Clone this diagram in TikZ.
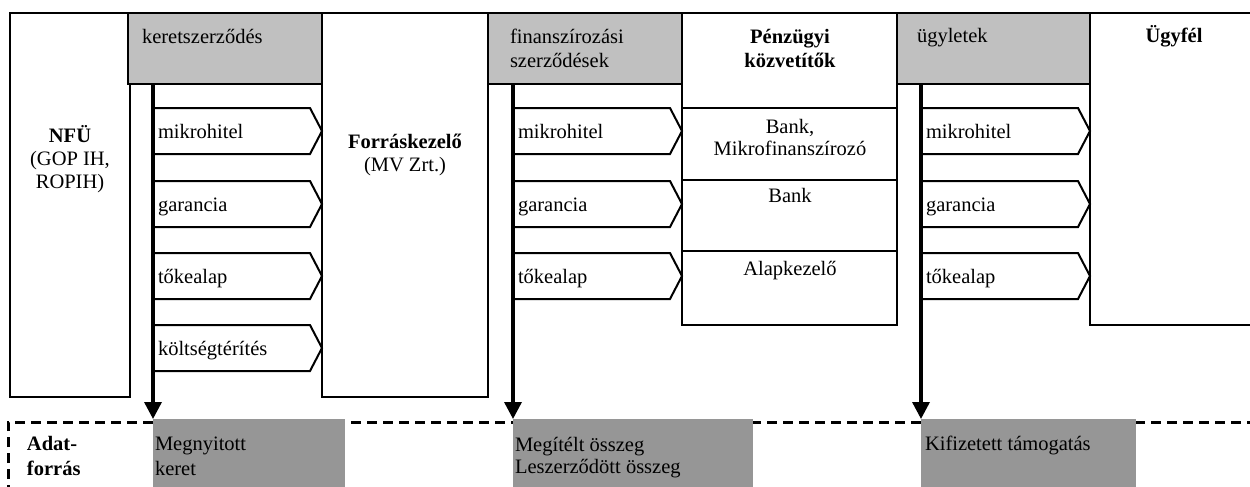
\documentclass[tikz,border=0pt]{standalone}
\usepackage{fontspec}
\setmainfont{Liberation Serif}
\usetikzlibrary{arrows.meta}
\definecolor{headgray}{RGB}{192,192,192}
\definecolor{sourcegray}{RGB}{150,150,150}
\begin{document}
\begin{tikzpicture}[x=1pt,y=-1pt,
  every node/.style={inner sep=0pt, outer sep=0pt, font=\fontsize{20.5}{23.5}\selectfont},
  frame/.style={draw=black, line width=2pt},
  colbox/.style={frame, fill=white, anchor=north west},
  headbox/.style={frame, fill=headgray, anchor=north west, minimum height=71pt},
  srcbox/.style={fill=sourcegray, anchor=north west, minimum height=72pt},
  flow/.style={line width=3.4pt, -{Triangle[width=17pt,length=17pt]}},
  sourceframe/.style={line width=3pt, dash pattern=on 10pt off 6pt},
  lbl/.style={anchor=base west},
  tab/.pic={
    \draw[frame, fill=white, line join=miter] (0,-23) -- (157,-23) -- (169,0) -- (157,23) -- (0,23);
    \node[lbl] (-label) at (5,7) {#1};
  }]
\useasboundingbox (0,0) rectangle (1250,487);

% actor columns
\node[colbox, minimum width=120pt, minimum height=384pt] (nfu) at (10,13) {};
\node[colbox, minimum width=166pt, minimum height=384pt] (fk) at (322,13) {};
\node[colbox, minimum width=215pt, minimum height=95pt] (pk) at (682,13) {};
\node[colbox, minimum width=215pt, minimum height=72pt] (pk1) at (682,108) {};
\node[colbox, minimum width=215pt, minimum height=71pt] (pk2) at (682,180) {};
\node[colbox, minimum width=215pt, minimum height=74pt] (pk3) at (682,251) {};
\node[colbox, minimum width=175pt, minimum height=312pt] (ugy) at (1090,13) {};

% contract headers
\node[headbox, minimum width=194pt] (h1) at (128,13) {};
\node[headbox, minimum width=194pt] (h2) at (488,13) {};
\node[headbox, minimum width=193pt] (h3) at (897,13) {};

% product tabs
\pic (a1) at (153,131) {tab=mikrohitel};
\pic (a2) at (153,204) {tab=garancia};
\pic (a3) at (153,276) {tab=tőkealap};
\pic (a4) at (153,348) {tab=költségtérítés};
\pic (b1) at (513,131) {tab=mikrohitel};
\pic (b2) at (513,204) {tab=garancia};
\pic (b3) at (513,276) {tab=tőkealap};
\pic (c1) at (921,131) {tab=mikrohitel};
\pic (c2) at (921,204) {tab=garancia};
\pic (c3) at (921,276) {tab=tőkealap};

% data source band
\draw[sourceframe] (8,495) -- (8,422) -- (1256,422);
\node[srcbox, minimum width=192pt] (s1) at (153,419) {};
\node[srcbox, minimum width=240pt] (s2) at (513,419) {};
\node[srcbox, minimum width=215pt] (s3) at (921,419) {};

% flows down to the data sources
\draw[flow] (h1.south west -| s1.north west) -- (s1.north west);
\draw[flow] (h2.south west -| s2.north west) -- (s2.north west);
\draw[flow] (h3.south west -| s3.north west) -- (s3.north west);

% texts (multi-line nodes sit on the baseline of their last line)
\node[lbl] (th1) at (142,44) {keretszerződés};
\node[lbl, align=left, font=\fontsize{20.5}{24}\selectfont] (th2) at (510,67) {finanszírozási\\szerződések};
\node[lbl] (th3) at (917,43) {ügyletek};
\node[anchor=base, align=center, font=\fontsize{20.5}{23}\selectfont] (tnfu) at (70,188) {{\bfseries NFÜ}\\(GOP IH,\\ROPIH)};
\node[anchor=base, align=center, font=\fontsize{20.5}{23}\selectfont] (tfk) at (405,171) {{\bfseries Forráskezelő}\\(MV Zrt.)};
\node[anchor=base, align=center, font=\fontsize{20.5}{24}\selectfont\bfseries] (tpk) at (790,67) {Pénzügyi\\közvetítők};
\node[anchor=base, align=center, font=\fontsize{20.5}{22}\selectfont] (tpk1) at (790,155) {Bank,\\Mikrofinanszírozó};
\node[anchor=base] (tpk2) at (790,202) {Bank};
\node[anchor=base] (tpk3) at (790,275) {Alapkezelő};
\node[anchor=base, font=\fontsize{20.5}{23.5}\selectfont\bfseries] (tugy) at (1174,43) {Ügyfél};
\node[lbl, align=left, font=\fontsize{20.5}{25}\selectfont\bfseries] (tad) at (27,475) {Adat-\\forrás};
\node[lbl, align=left, font=\fontsize{20.5}{25}\selectfont] (ts1) at (155,475) {Megnyitott\\keret};
\node[lbl, align=left, font=\fontsize{20.5}{22}\selectfont] (ts2) at (515,473) {Megítélt összeg\\Leszerződött összeg};
\node[lbl] (ts3) at (925,450) {Kifizetett támogatás};
\end{tikzpicture}
\end{document}
